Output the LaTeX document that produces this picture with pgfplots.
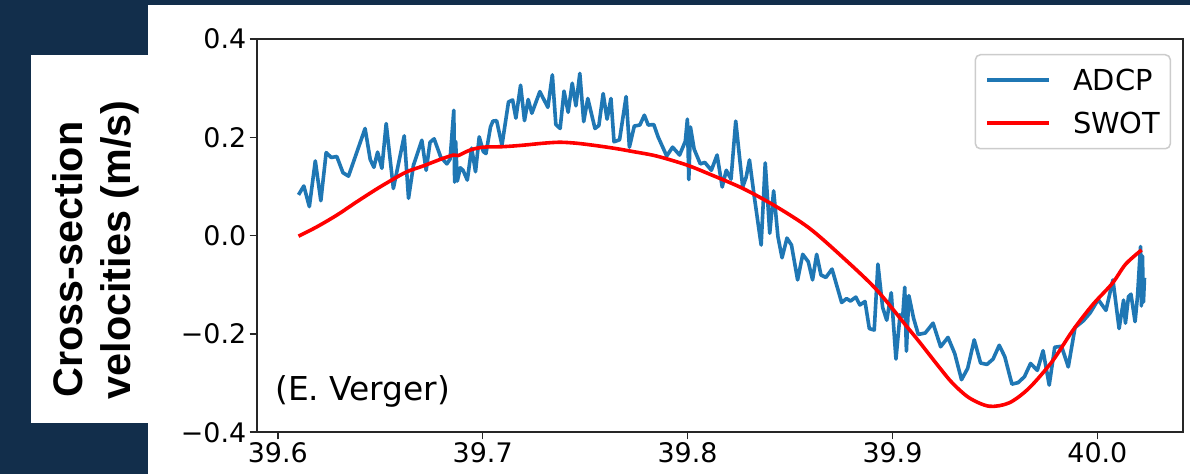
\documentclass[border=0pt]{standalone}
\usepackage{fontspec}
\setmainfont{DejaVu Sans}
\newfontfamily\arialfont{Liberation Sans}
\usepackage{pgfplots}
\usepackage{pgfplotstable}
\pgfplotsset{compat=1.18}
\definecolor{navy}{RGB}{18,46,75}
\definecolor{mplblue}{HTML}{1F77B4}
\definecolor{mplred}{RGB}{255,0,0}

\pgfplotstableread{
x y
39.6101 0.083
39.6127 0.101
39.6154 0.059
39.6183 0.152
39.6210 0.071
39.6236 0.169
39.6261 0.159
39.6288 0.161
39.6318 0.128
39.6345 0.121
39.6426 0.218
39.6451 0.155
39.6469 0.139
39.6487 0.170
39.6508 0.137
39.6529 0.228
39.6564 0.096
39.6617 0.203
39.6638 0.076
39.6662 0.143
39.6703 0.194
39.6724 0.133
39.6743 0.190
39.6763 0.197
39.6795 0.160
39.6825 0.146
39.6841 0.156
39.6859 0.255
39.6863 0.109
39.6868 0.192
39.6876 0.111
39.6891 0.138
39.6904 0.133
39.6925 0.113
39.6946 0.178
39.6965 0.130
39.6983 0.201
39.7003 0.171
39.7016 0.167
39.7038 0.221
39.7050 0.233
39.7068 0.234
39.7094 0.184
39.7126 0.272
39.7146 0.276
39.7162 0.239
39.7185 0.306
39.7204 0.234
39.7222 0.277
39.7240 0.249
39.7279 0.293
39.7318 0.261
39.7340 0.327
39.7357 0.226
39.7378 0.218
39.7397 0.294
39.7417 0.251
39.7437 0.310
39.7455 0.264
39.7474 0.330
39.7493 0.232
39.7513 0.279
39.7548 0.218
39.7567 0.224
39.7588 0.289
39.7607 0.237
39.7626 0.279
39.7641 0.191
39.7668 0.195
39.7700 0.283
39.7716 0.180
39.7740 0.223
39.7767 0.225
39.7789 0.245
39.7808 0.225
39.7835 0.226
39.7856 0.201
39.7898 0.162
39.7927 0.180
39.7961 0.164
39.7989 0.192
39.7999 0.237
39.8006 0.114
39.8014 0.221
39.8032 0.176
39.8062 0.146
39.8084 0.149
39.8116 0.133
39.8144 0.164
39.8169 0.099
39.8189 0.133
39.8212 0.115
39.8235 0.233
39.8269 0.099
39.8286 0.119
39.8302 0.154
39.8325 0.081
39.8359 -0.019
39.8379 0.148
39.8401 0.005
39.8420 0.091
39.8441 -0.002
39.8461 -0.045
39.8485 -0.005
39.8507 -0.019
39.8537 -0.090
39.8562 -0.038
39.8589 -0.053
39.8610 -0.090
39.8630 -0.038
39.8651 -0.080
39.8675 -0.085
39.8705 -0.068
39.8752 -0.136
39.8776 -0.128
39.8795 -0.133
39.8821 -0.125
39.8841 -0.141
39.8866 -0.134
39.8887 -0.189
39.8911 -0.192
39.8929 -0.058
39.8952 -0.146
39.8972 -0.172
39.8994 -0.116
39.9017 -0.251
39.9037 -0.161
39.9050 -0.165
39.9060 -0.105
39.9068 -0.235
39.9080 -0.122
39.9103 -0.168
39.9126 -0.201
39.9160 -0.198
39.9198 -0.178
39.9235 -0.226
39.9271 -0.207
39.9304 -0.240
39.9337 -0.293
39.9367 -0.270
39.9399 -0.212
39.9430 -0.259
39.9461 -0.262
39.9491 -0.251
39.9521 -0.223
39.9548 -0.246
39.9583 -0.302
39.9613 -0.299
39.9644 -0.287
39.9674 -0.260
39.9707 -0.274
39.9735 -0.234
39.9765 -0.304
39.9792 -0.227
39.9825 -0.225
39.9858 -0.267
39.9891 -0.187
39.9932 -0.173
39.9965 -0.157
40.0004 -0.130
40.0042 -0.152
40.0076 -0.090
40.0106 -0.189
40.0128 -0.131
40.0137 -0.178
40.0152 -0.124
40.0164 -0.119
40.0184 -0.175
40.0196 -0.123
40.0206 -0.054
40.0211 -0.022
40.0215 -0.143
40.0220 -0.041
40.0225 -0.135
40.0230 -0.086
}\adcp

\pgfplotstableread{
x y
39.6101 -0.001
39.6191 0.018
39.6289 0.042
39.6386 0.069
39.6483 0.095
39.6564 0.115
39.6630 0.130
39.6711 0.142
39.6792 0.155
39.6857 0.164
39.6881 0.163
39.6938 0.174
39.7003 0.180
39.7100 0.181
39.7198 0.184
39.7295 0.188
39.7377 0.190
39.7458 0.188
39.7556 0.183
39.7653 0.177
39.7734 0.171
39.7848 0.162
39.7994 0.144
39.8108 0.125
39.8270 0.096
39.8433 0.059
39.8595 0.015
39.8757 -0.044
39.8920 -0.109
39.9080 -0.190
39.9131 -0.216
39.9229 -0.268
39.9293 -0.300
39.9375 -0.330
39.9472 -0.347
39.9570 -0.340
39.9667 -0.310
39.9781 -0.255
39.9878 -0.194
39.9976 -0.141
40.0073 -0.097
40.0138 -0.058
40.0216 -0.029
}\swot

\begin{document}
\begin{tikzpicture}
\useasboundingbox (0bp,0bp) rectangle (1190bp,474bp);
\fill[navy] (0bp,0bp) rectangle (1190bp,474bp);
\fill[white] (148bp,0bp) rectangle (1190bp,469bp);
\fill[white] (31bp,51bp) rectangle (148bp,419bp);
\node[rotate=90,anchor=base,inner sep=0pt,font=\arialfont\bfseries\fontsize{41.5}{48}\selectfont] at (82bp,214.5bp) {Cross-section};
\node[rotate=90,anchor=base,inner sep=0pt,font=\arialfont\bfseries\fontsize{41.5}{48}\selectfont] at (130bp,224bp) {velocities (m/s)};
\begin{axis}[
  at={(256.7bp,41.7bp)}, anchor=south west,
  scale only axis, width=926.3bp, height=393.3bp,
  xmin=39.5897, xmax=40.0418, ymin=-0.4, ymax=0.4,
  xtick={39.6,39.7,39.8,39.9,40.0},
  xticklabels={39.6,39.7,39.8,39.9,40.0},
  ytick={-0.4,-0.2,0,0.2,0.4},
  yticklabels={−0.4,−0.2,0.0,0.2,0.4},
  xtick pos=bottom, ytick pos=left,
  tick align=outside, major tick length=7bp,
  every tick/.style={black!85, line width=1.6bp},
  axis line style={black!85, line width=1.8bp},
  tick label style={font=\fontsize{27}{32}\selectfont, black},
  legend style={at={(0.9871,0.9619)}, anchor=north east,
    draw=black!20, rounded corners=5bp, line width=1.5bp,
    font=\fontsize{29}{34}\selectfont, inner xsep=10bp, inner ysep=15bp,
    nodes={inner sep=0pt, text height=21bp, text depth=0bp},
    row sep=22bp, column sep=22bp},
  legend cell align=left,
  legend image code/.code={\draw[#1] (0bp,0bp) -- (62bp,0bp);},
]
\addplot[mplblue, line width=3.6bp, line join=round] table[x=x,y=y] {\adcp};
\addlegendentry{ADCP}
\addplot[mplred, line width=3.6bp, line join=round, smooth, tension=0.5] table[x=x,y=y] {\swot};
\addlegendentry{SWOT}
\node[anchor=base west, inner sep=0pt, font=\fontsize{33}{38}\selectfont] at (rel axis cs:0.0198,0.0821) {(E. Verger)};
\end{axis}
\end{tikzpicture}
\end{document}
